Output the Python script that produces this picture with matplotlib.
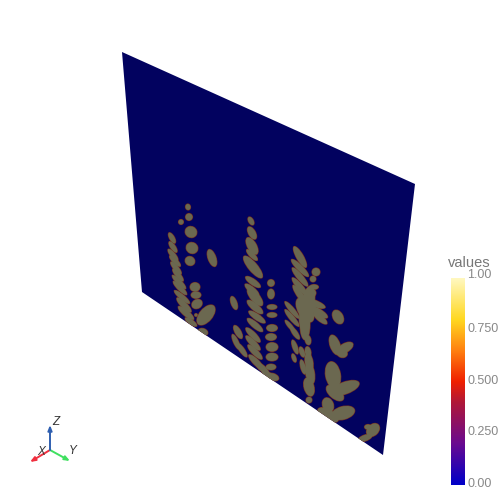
import numpy as np
import matplotlib
matplotlib.use("Agg")
import matplotlib.pyplot as plt
from matplotlib.colors import LinearSegmentedColormap
from matplotlib.patches import Ellipse, Polygon

plt.rcParams['font.family'] = ['Liberation Sans', 'DejaVu Sans']

# corners of the slice plane (screen pixels)
plane_x = [122, 415, 383, 142]
plane_y = [52, 184, 455, 292]

# blobs on the plane, one entry per ellipse, grouped by column
blob_x = [172, 173, 173, 175, 176, 178, 179, 180, 182, 184, 186, 191,
          188, 189, 181, 191, 192, 190, 195, 196, 197, 206, 203, 212, 196,
          251, 252, 252, 252, 253, 253, 252, 255, 255, 257, 255, 253, 253, 255, 256, 262, 268,
          234, 238, 236, 242,
          271, 271, 272, 272, 272, 271, 272, 272, 271, 273,
          300, 300, 300, 300, 300, 307, 305, 305, 313, 318, 320, 316, 313, 314, 312,
          292, 292, 290, 295, 295, 294,
          308, 308, 309, 310, 309, 302, 303, 309,
          338, 335, 345, 342, 333, 345, 335, 328, 343, 328, 373, 368, 365]
blob_y = [238, 247, 255, 261, 268, 275, 282, 288, 297, 305, 313, 322,
          207, 217, 222, 232, 248, 261, 287, 295, 304, 315, 332, 258, 315,
          221, 233, 246, 255, 267, 282, 290, 297, 307, 317, 325, 335, 343, 352, 362, 368, 375,
          303, 332, 342, 350,
          283, 294, 307, 315, 328, 337, 347, 357, 367, 377,
          257, 268, 277, 287, 295, 308, 310, 325, 303, 312, 318, 272, 279, 287, 293,
          310, 318, 326, 333, 347, 358,
          340, 352, 362, 373, 387, 352, 367, 400,
          317, 345, 348, 353, 375, 388, 393, 405, 413, 415, 430, 427, 438]
blob_len = [12, 13, 15, 15, 16, 16, 19, 19, 20, 20, 20, 14,
            6, 7, 5, 12, 12, 10, 10, 10, 11, 24, 10, 18, 3,
            9, 14, 19, 15, 28, 18, 18, 22, 20, 20, 20, 20, 20, 20, 20, 17, 15,
            14, 15, 17, 17,
            7, 10, 10, 10, 11, 11, 12, 12, 10, 12,
            24, 24, 24, 24, 24, 45, 27, 30, 26, 22, 18, 8, 6, 9, 8,
            22, 22, 15, 15, 15, 9,
            10, 11, 19, 23, 19, 11, 15, 6,
            15, 21, 18, 11, 27, 30, 21, 15, 24, 23, 15, 7, 15]
blob_wid = [5, 5, 5, 5, 5, 5, 5, 5, 5, 6, 6, 5,
            5, 7, 5, 11, 11, 9, 9, 7, 9, 13, 7, 8, 3,
            5, 7, 9, 5, 9, 6, 6, 9, 7, 6, 6, 6, 6, 6, 6, 6, 6,
            6, 6, 5, 5,
            7, 7, 5, 5, 7, 7, 9, 8, 6, 7,
            7, 6, 6, 6, 6, 14, 14, 10, 7, 7, 6, 8, 6, 5, 8,
            5, 5, 4, 5, 5, 4,
            6, 6, 8, 9, 10, 5, 5, 6,
            10, 10, 9, 9, 15, 12, 11, 11, 13, 11, 11, 5, 6]
blob_ang = [60, 55, 50, 45, 50, 50, 45, 45, 40, 45, 40, 35,
            80, 90, 70, 30, 30, 30, 0, 0, -30, -50, 20, 70, 0,
            60, 60, 60, 45, 50, 35, 40, 50, 40, 35, 40, 45, 45, 45, 45, 40, 35,
            70, 60, 65, 55,
            0, 90, 0, 0, 0, 0, 0, 0, 0, 20,
            60, 45, 50, 50, 55, 100, 60, 90, 20, 30, 40, 0, 0, 0, 0,
            50, 50, 50, 55, 70, 70,
            80, 80, 80, 80, 75, 70, 75, 0,
            60, 70, -30, 20, 80, -20, 40, 70, -15, 30, -45, 0, -20]

# colour bar
bar_ticks = [0.0, 0.25, 0.5, 0.75, 1.0]
bar_labels = ['0.00', '0.250', '0.500', '0.750', '1.00']
bar_pos = [0.0, 0.2, 0.4, 0.5, 0.65, 0.8, 1.0]
bar_cols = ['#0000c8', '#6a0a90', '#b01838', '#f02000', '#ff8010', '#ffd820', '#fff8c0']

# orientation axes: origin then tip of each axis
tri_origin = (50, 450)
tri_tips = {'X': (30, 462), 'Y': (70, 461), 'Z': (50, 425)}
tri_cols = {'X': '#f03040', 'Y': '#40e060', 'Z': '#2f5fb0'}
tri_text = {'X': (41, 452), 'Y': (73, 451), 'Z': (56, 422)}

fig = plt.figure(figsize=(5, 5), dpi=100)
ax = fig.add_axes([0, 0, 1, 1])

plane = Polygon(np.column_stack([plane_x, plane_y]), closed=True,
                facecolor='#02025f', edgecolor='none', zorder=1)
ax.add_patch(plane)

# dark rim first, fill on top so that merged blobs have no inner outline
for x, y, l, w, a in zip(blob_x, blob_y, blob_len, blob_wid, blob_ang):
    e = Ellipse((x, y), l + 1.2, w + 1.2, angle=a, facecolor='#75301f',
                edgecolor='none', zorder=2)
    ax.add_patch(e)
    e.set_clip_path(plane)
for x, y, l, w, a in zip(blob_x, blob_y, blob_len, blob_wid, blob_ang):
    e = Ellipse((x, y), l, w, angle=a, facecolor='#6b6850',
                edgecolor='none', zorder=3)
    ax.add_patch(e)
    e.set_clip_path(plane)

cmap = LinearSegmentedColormap.from_list('bar', list(zip(bar_pos, bar_cols)))
grad = np.linspace(1, 0, 256).reshape(-1, 1)
ax.imshow(grad, cmap=cmap, vmin=0, vmax=1, extent=[451, 465, 485, 278],
          aspect='auto', zorder=2)
ax.text(469, 263, 'values', color='#777777', fontsize=10.5, ha='center', va='center')
for t, lab in zip(bar_ticks, bar_labels):
    y = 485 + (278 - 485) * t
    ax.text(467, y - 1 if t < 1 else y - 3, lab, color='#888888', fontsize=9, ha='left', va='center')

for k in tri_tips:
    ax.annotate('', xy=tri_tips[k], xytext=tri_origin,
                arrowprops=dict(arrowstyle='-|>,head_width=0.12,head_length=0.3',
                                color=tri_cols[k], lw=1.4, shrinkA=0, shrinkB=0))
    ax.text(tri_text[k][0], tri_text[k][1], k, color='#333333', fontsize=8.5,
            style='italic', ha='center', va='center')

ax.set_xlim(0, 500)
ax.set_ylim(500, 0)
ax.axis('off')
fig.savefig('out.png', dpi=100)
